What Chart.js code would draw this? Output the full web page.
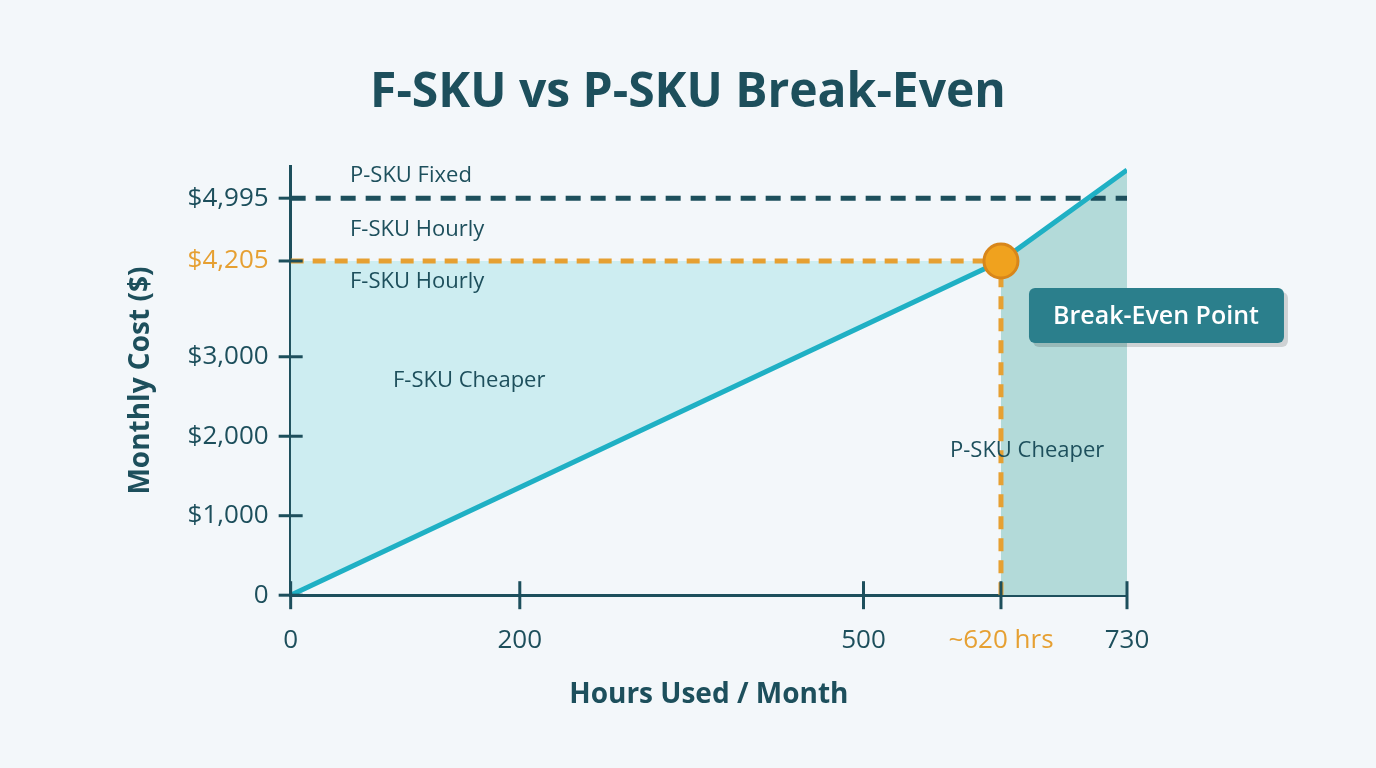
<!DOCTYPE html>
<html><head><meta charset="utf-8">
<script src="https://cdn.jsdelivr.net/npm/chart.js@4"></script>
<style>html,body{margin:0;background:#f3f7fa}#w{width:1376px;height:768px}</style>
</head><body><div id="w"><canvas id="c" width="1376" height="768"></canvas></div>
<script>
const xTicks=[0,200,500,620,730];
const xTickLabels=['0','200','500','~620 hrs','730'];
const yTicks=[0,1000,2000,3000,4205,4995];
const yTickLabels=['0','$1,000','$2,000','$3,000','$4,205','$4,995'];
const fHourly=[{x:0,y:0},{x:620,y:4205},{x:730,y:5350}];
const pFixed=[{x:0,y:4995},{x:730,y:4995}];
const breakEven={x:620,y:4205};
const DARK='#1d4f5c',ORANGE='#e6a032',TEAL='#1fb0c4';
const F='"Open Sans", "Liberation Sans", sans-serif';
const deco={id:'deco',afterDraw(ch){
 const c=ch.ctx,x=ch.scales.x,y=ch.scales.y;
 c.save();
 c.fillStyle=DARK;c.textAlign='center';c.font='bold 48px '+F;
 c.fillText('F-SKU vs P-SKU Break-Even',688,107);
 c.font='22px '+F;c.textAlign='left';c.fillStyle=DARK;
 const t=(s,px,py)=>c.fillText(s,px,py);
 t('P-SKU Fixed',350,182);t('F-SKU Hourly',350,236);t('F-SKU Hourly',350,288);
 t('F-SKU Cheaper',393,387);t('P-SKU Cheaper',950,457);
 c.strokeStyle=DARK;c.lineWidth=3;
 yTicks.forEach(v=>{const p=y.getPixelForValue(v);c.beginPath();c.moveTo(x.left-12,p);c.lineTo(x.left+12,p);c.stroke();});
 xTicks.forEach(v=>{const p=x.getPixelForValue(v);c.beginPath();c.moveTo(p,y.bottom-14);c.lineTo(p,y.bottom+14);c.stroke();});
 const bx=x.getPixelForValue(breakEven.x)+28,by=y.getPixelForValue(breakEven.y)+27;
 c.fillStyle='rgba(0,0,0,0.15)';c.beginPath();c.roundRect(bx+4,by+4,255,55,6);c.fill();
 c.fillStyle='#2b7f8c';c.beginPath();c.roundRect(bx,by,255,55,6);c.fill();
 c.fillStyle='#fff';c.font='600 25px '+F;c.textAlign='center';c.fillText('Break-Even Point',bx+127,by+36);
 c.restore();}};
new Chart(document.getElementById('c'),{type:'scatter',
 data:{datasets:[
  {order:10,data:fHourly.slice(0,2),showLine:true,borderWidth:0,pointRadius:0,backgroundColor:'#cdedf1',fill:{target:{value:4205},above:'#cdedf1',below:'#cdedf1'}},
  {order:10,data:fHourly.slice(1),showLine:true,borderWidth:0,pointRadius:0,backgroundColor:'#b3dad9',fill:'origin'},
  {order:5,data:[{x:0,y:breakEven.y},breakEven],showLine:true,borderColor:ORANGE,borderWidth:5,borderDash:[13,9],pointRadius:0},
  {order:5,data:[{x:breakEven.x,y:0},breakEven],showLine:true,borderColor:ORANGE,borderWidth:5,borderDash:[13,9],pointRadius:0},
  {order:5,data:pFixed,showLine:true,borderColor:DARK,borderWidth:5,borderDash:[15,10],pointRadius:0},
  {order:2,data:fHourly,showLine:true,borderColor:TEAL,borderWidth:5,pointRadius:0},
  {order:0,data:[breakEven],pointRadius:17,pointBackgroundColor:'#f0a21e',pointBorderColor:'#d8861a',pointBorderWidth:3}
 ]},
 options:{responsive:false,animation:false,devicePixelRatio:1,
  layout:{padding:{left:120,right:249,top:166,bottom:52}},
  plugins:{legend:{display:false},tooltip:{enabled:false}},
  scales:{
   x:{type:'linear',min:0,max:730,afterBuildTicks:s=>{s.ticks=xTicks.map(v=>({value:v}))},
    grid:{display:false},border:{display:true,color:DARK,width:3},
    ticks:{padding:22,font:{size:26,family:F},color:c=>c.index==3?ORANGE:DARK,callback:(v,i)=>xTickLabels[i]},
    title:{display:true,text:'Hours Used / Month',color:DARK,font:{size:28,weight:'bold',family:F},padding:{top:0}}},
   y:{type:'linear',min:0,max:5400,afterBuildTicks:s=>{s.ticks=yTicks.map(v=>({value:v}))},
    grid:{display:false},border:{display:true,color:DARK,width:3},
    ticks:{padding:14,font:{size:26,family:F},color:c=>c.index==4?ORANGE:DARK,callback:(v,i)=>yTickLabels[i]},
    title:{display:true,text:'Monthly Cost ($)',color:DARK,font:{size:28,weight:'bold',family:F},padding:{bottom:16}}}
  }},plugins:[deco]});
</script></body></html>
